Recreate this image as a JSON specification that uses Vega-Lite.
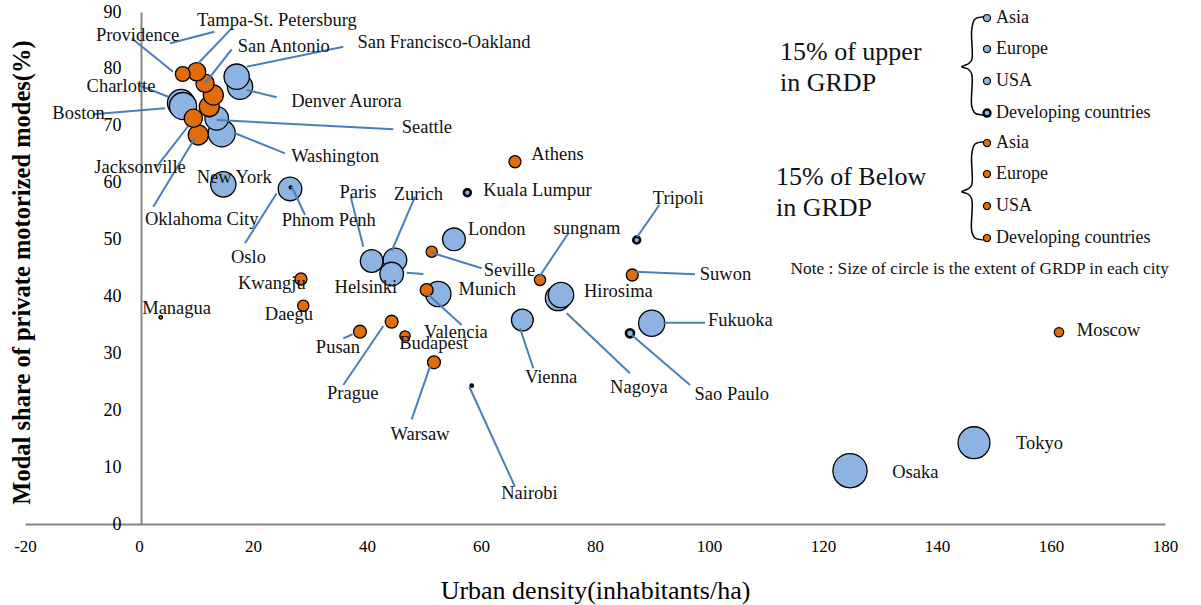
{
  "$schema": "https://vega.github.io/schema/vega-lite/v6.json",
  "width": 1140,
  "height": 512,
  "autosize": "none",
  "padding": {"left": 25, "top": 12, "right": 36, "bottom": 81},
  "background": "white",
  "config": {"view": {"stroke": null}, "font": "Liberation Serif"},
  "datasets": {
    "cities": [
      {"name": "Washington", "x": 14.51, "y": 68.68, "grdp": 234, "tier": "upper", "region": "USA"},
      {"name": "Denver Aurora", "x": 17.72, "y": 76.87, "grdp": 204, "tier": "upper", "region": "USA"},
      {"name": "San Francisco-Oakland", "x": 17.14, "y": 78.63, "grdp": 204, "tier": "upper", "region": "USA"},
      {"name": "Charlotte", "x": 7.37, "y": 74.0, "grdp": 234, "tier": "upper", "region": "USA"},
      {"name": "Boston", "x": 7.72, "y": 73.47, "grdp": 234, "tier": "upper", "region": "USA"},
      {"name": "Seattle", "x": 13.63, "y": 71.31, "grdp": 177, "tier": "upper", "region": "USA"},
      {"name": "New York", "x": 14.79, "y": 59.7, "grdp": 204, "tier": "upper", "region": "USA"},
      {"name": "Oklahoma City", "x": 10.4, "y": 68.38, "grdp": 128, "tier": "below", "region": "USA"},
      {"name": "", "x": 12.33, "y": 73.35, "grdp": 128, "tier": "below", "region": "USA"},
      {"name": "", "x": 13.04, "y": 75.41, "grdp": 128, "tier": "below", "region": "USA"},
      {"name": "San Antonio", "x": 11.58, "y": 77.47, "grdp": 106, "tier": "below", "region": "USA"},
      {"name": "Tampa-St. Petersburg", "x": 10.12, "y": 79.5, "grdp": 106, "tier": "below", "region": "USA"},
      {"name": "Providence", "x": 7.67, "y": 79.1, "grdp": 69, "tier": "below", "region": "USA"},
      {"name": "Jacksonville", "x": 9.53, "y": 71.31, "grdp": 106, "tier": "below", "region": "USA"},
      {"name": "Oslo", "x": 26.49, "y": 58.89, "grdp": 177, "tier": "upper", "region": "Europe"},
      {"name": "Paris", "x": 40.82, "y": 46.23, "grdp": 164, "tier": "upper", "region": "Europe"},
      {"name": "Zurich", "x": 44.91, "y": 46.41, "grdp": 177, "tier": "upper", "region": "Europe"},
      {"name": "Helsinki", "x": 44.33, "y": 43.94, "grdp": 177, "tier": "upper", "region": "Europe"},
      {"name": "London", "x": 55.26, "y": 50.04, "grdp": 164, "tier": "upper", "region": "Europe"},
      {"name": "Munich", "x": 52.51, "y": 40.43, "grdp": 204, "tier": "upper", "region": "Europe"},
      {"name": "Vienna", "x": 67.25, "y": 35.86, "grdp": 151, "tier": "upper", "region": "Europe"},
      {"name": "Nagoya", "x": 73.51, "y": 39.73, "grdp": 204, "tier": "upper", "region": "Asia"},
      {"name": "Hirosima", "x": 74.04, "y": 40.25, "grdp": 204, "tier": "upper", "region": "Asia"},
      {"name": "Fukuoka", "x": 89.95, "y": 35.28, "grdp": 219, "tier": "upper", "region": "Asia"},
      {"name": "Osaka", "x": 124.74, "y": 9.37, "grdp": 372, "tier": "upper", "region": "Asia"},
      {"name": "Tokyo", "x": 146.49, "y": 14.29, "grdp": 324, "tier": "upper", "region": "Asia"},
      {"name": "Kuala Lumpur", "x": 57.6, "y": 58.24, "grdp": 15, "tier": "upper", "region": "Developing countries"},
      {"name": "Tripoli", "x": 87.32, "y": 49.92, "grdp": 15, "tier": "upper", "region": "Developing countries"},
      {"name": "Sao Paulo", "x": 86.14, "y": 33.52, "grdp": 21, "tier": "upper", "region": "Developing countries"},
      {"name": "Phnom Penh", "x": 26.61, "y": 59.18, "grdp": 1, "tier": "upper", "region": "Developing countries"},
      {"name": "Nairobi", "x": 58.37, "y": 24.31, "grdp": 1.5, "tier": "upper", "region": "Developing countries"},
      {"name": "Managua", "x": 3.81, "y": 36.33, "grdp": 4, "tier": "below", "region": "Developing countries"},
      {"name": "Seville", "x": 51.35, "y": 47.86, "grdp": 40, "tier": "below", "region": "Europe"},
      {"name": "Valencia", "x": 50.47, "y": 41.13, "grdp": 53, "tier": "below", "region": "Europe"},
      {"name": "Prague", "x": 44.33, "y": 35.56, "grdp": 53, "tier": "below", "region": "Europe"},
      {"name": "Budapest", "x": 46.67, "y": 33.05, "grdp": 34, "tier": "below", "region": "Europe"},
      {"name": "Warsaw", "x": 51.75, "y": 28.42, "grdp": 53, "tier": "below", "region": "Europe"},
      {"name": "Athens", "x": 65.96, "y": 63.68, "grdp": 46, "tier": "below", "region": "Europe"},
      {"name": "Moscow", "x": 161.4, "y": 33.7, "grdp": 28, "tier": "below", "region": "Europe"},
      {"name": "Kwangju", "x": 28.42, "y": 43.07, "grdp": 46, "tier": "below", "region": "Asia"},
      {"name": "Daegu", "x": 28.82, "y": 38.37, "grdp": 40, "tier": "below", "region": "Asia"},
      {"name": "Pusan", "x": 38.77, "y": 33.8, "grdp": 53, "tier": "below", "region": "Asia"},
      {"name": "sungnam", "x": 70.35, "y": 42.89, "grdp": 40, "tier": "below", "region": "Asia"},
      {"name": "Suwon", "x": 86.54, "y": 43.77, "grdp": 46, "tier": "below", "region": "Asia"}
    ],
    "labels": [
      {"name": "Providence", "x": -0.26, "y": 85.97},
      {"name": "Tampa-St. Petersburg", "x": 24.2, "y": 88.6},
      {"name": "San Antonio", "x": 25.4, "y": 84.0},
      {"name": "San Francisco-Oakland", "x": 53.5, "y": 84.7},
      {"name": "Denver Aurora", "x": 36.4, "y": 74.35},
      {"name": "Seattle", "x": 50.5, "y": 69.8},
      {"name": "Washington", "x": 34.4, "y": 64.7},
      {"name": "Charlotte", "x": -3.16, "y": 77.0},
      {"name": "Boston", "x": -10.6, "y": 72.2},
      {"name": "Jacksonville", "x": 0.18, "y": 62.8},
      {"name": "Oklahoma City", "x": 11.0, "y": 53.7},
      {"name": "New York", "x": 16.7, "y": 61.0},
      {"name": "Phnom Penh", "x": 33.3, "y": 53.4},
      {"name": "Oslo", "x": 19.2, "y": 46.9},
      {"name": "Paris", "x": 38.4, "y": 58.3},
      {"name": "Zurich", "x": 49.0, "y": 57.95},
      {"name": "Helsinki", "x": 39.8, "y": 41.7},
      {"name": "Kwangju", "x": 23.3, "y": 42.3},
      {"name": "Daegu", "x": 26.3, "y": 36.9},
      {"name": "Managua", "x": 6.6, "y": 37.9},
      {"name": "Pusan", "x": 34.9, "y": 31.2},
      {"name": "Prague", "x": 37.5, "y": 23.0},
      {"name": "Budapest", "x": 51.7, "y": 31.8},
      {"name": "Valencia", "x": 55.6, "y": 33.75},
      {"name": "Warsaw", "x": 49.3, "y": 15.8},
      {"name": "Nairobi", "x": 68.5, "y": 5.5},
      {"name": "Athens", "x": 73.4, "y": 65.0},
      {"name": "Kuala Lumpur", "x": 69.9, "y": 58.7},
      {"name": "London", "x": 62.75, "y": 51.9},
      {"name": "Seville", "x": 65.0, "y": 44.6},
      {"name": "Munich", "x": 61.1, "y": 41.25},
      {"name": "Vienna", "x": 72.3, "y": 25.8},
      {"name": "sungnam", "x": 78.6, "y": 52.1},
      {"name": "Hirosima", "x": 84.1, "y": 40.9},
      {"name": "Tripoli", "x": 94.6, "y": 57.25},
      {"name": "Suwon", "x": 102.9, "y": 43.9},
      {"name": "Fukuoka", "x": 105.5, "y": 35.9},
      {"name": "Nagoya", "x": 87.7, "y": 24.1},
      {"name": "Sao Paulo", "x": 104.0, "y": 22.85},
      {"name": "Moscow", "x": 170.1, "y": 34.1},
      {"name": "Tokyo", "x": 158.0, "y": 14.29},
      {"name": "Osaka", "x": 136.2, "y": 9.2}
    ],
    "leaders": [
      {"name": "Providence", "x": -1.28, "y": 85.37, "x2": 5.96, "y2": 79.5},
      {"name": "", "x": 5.44, "y": 84.5, "x2": 13.21, "y2": 86.54},
      {"name": "Tampa-St. Petersburg", "x": 16.26, "y": 87.13, "x2": 10.4, "y2": 80.98},
      {"name": "San Antonio", "x": 16.26, "y": 83.44, "x2": 11.58, "y2": 77.47},
      {"name": "San Francisco-Oakland", "x": 35.84, "y": 83.9, "x2": 18.89, "y2": 80.38},
      {"name": "Denver Aurora", "x": 24.16, "y": 75.0, "x2": 18.89, "y2": 76.29},
      {"name": "Seattle", "x": 44.61, "y": 69.38, "x2": 13.63, "y2": 71.01},
      {"name": "Washington", "x": 25.61, "y": 65.16, "x2": 16.84, "y2": 68.68},
      {"name": "Charlotte", "x": -0.12, "y": 77.17, "x2": 5.14, "y2": 75.11},
      {"name": "Boston", "x": -8.02, "y": 72.02, "x2": 4.56, "y2": 73.07},
      {"name": "Jacksonville", "x": 3.11, "y": 62.81, "x2": 8.65, "y2": 69.96},
      {"name": "Oklahoma City", "x": 2.51, "y": 55.77, "x2": 9.82, "y2": 67.85},
      {"name": "Phnom Penh", "x": 26.79, "y": 59.29, "x2": 29.12, "y2": 54.31},
      {"name": "Oslo", "x": 24.16, "y": 58.13, "x2": 18.6, "y2": 49.34},
      {"name": "Paris", "x": 37.14, "y": 57.53, "x2": 39.35, "y2": 48.74},
      {"name": "Zurich", "x": 48.42, "y": 57.53, "x2": 44.33, "y2": 47.99},
      {"name": "Helsinki", "x": 46.96, "y": 44.17, "x2": 49.88, "y2": 43.94},
      {"name": "Seville", "x": 51.35, "y": 47.69, "x2": 60.12, "y2": 44.95},
      {"name": "Valencia", "x": 50.47, "y": 40.55, "x2": 56.61, "y2": 34.98},
      {"name": "Pusan", "x": 35.84, "y": 32.64, "x2": 37.49, "y2": 33.35},
      {"name": "Prague", "x": 42.86, "y": 34.8, "x2": 35.84, "y2": 24.43},
      {"name": "Warsaw", "x": 51.05, "y": 27.65, "x2": 47.84, "y2": 18.4},
      {"name": "Nairobi", "x": 57.95, "y": 24.13, "x2": 65.96, "y2": 6.56},
      {"name": "Vienna", "x": 66.84, "y": 34.4, "x2": 69.18, "y2": 27.37},
      {"name": "Nagoya", "x": 75.04, "y": 37.04, "x2": 86.14, "y2": 26.49},
      {"name": "sungnam", "x": 70.23, "y": 43.47, "x2": 75.32, "y2": 51.1},
      {"name": "Tripoli", "x": 87.42, "y": 50.5, "x2": 91.28, "y2": 56.07},
      {"name": "Suwon", "x": 87.02, "y": 44.35, "x2": 97.54, "y2": 43.89},
      {"name": "Fukuoka", "x": 91.98, "y": 35.38, "x2": 99.3, "y2": 35.38},
      {"name": "Sao Paulo", "x": 86.44, "y": 33.22, "x2": 96.67, "y2": 24.43}
    ],
    "legend": [
      {"label": "Asia", "x": 148.77, "y": 88.94, "tier": "upper", "region": "Asia"},
      {"label": "Europe", "x": 148.77, "y": 83.49, "tier": "upper", "region": "Europe"},
      {"label": "USA", "x": 148.77, "y": 77.87, "tier": "upper", "region": "USA"},
      {"label": "Developing countries", "x": 148.77, "y": 72.24, "tier": "upper", "region": "Developing countries"},
      {"label": "Asia", "x": 148.77, "y": 66.97, "tier": "below", "region": "Asia"},
      {"label": "Europe", "x": 148.77, "y": 61.52, "tier": "below", "region": "Europe"},
      {"label": "USA", "x": 148.77, "y": 55.9, "tier": "below", "region": "USA"},
      {"label": "Developing countries", "x": 148.77, "y": 50.27, "tier": "below", "region": "Developing countries"}
    ],
    "headings": [
      {"text": "15% of upper", "x": 112.46, "y": 82.97},
      {"text": "in GRDP", "x": 112.46, "y": 77.52},
      {"text": "15% of Below", "x": 111.75, "y": 61.0},
      {"text": "in GRDP", "x": 111.75, "y": 55.55}
    ],
    "note": [
      {"text": "Note : Size of circle is the extent of GRDP in each city", "x": 147.5, "y": 44.82}
    ],
    "braces": [
      {"brace": "upper", "ord": 1, "x": 148.72, "y": 89.17},
      {"brace": "upper", "ord": 2, "x": 146.67, "y": 88.77},
      {"brace": "upper", "ord": 3, "x": 146.09, "y": 86.83},
      {"brace": "upper", "ord": 4, "x": 146.09, "y": 81.56},
      {"brace": "upper", "ord": 5, "x": 145.44, "y": 80.86},
      {"brace": "upper", "ord": 6, "x": 144.33, "y": 80.38},
      {"brace": "upper", "ord": 7, "x": 145.44, "y": 79.98},
      {"brace": "upper", "ord": 8, "x": 146.09, "y": 79.1},
      {"brace": "upper", "ord": 9, "x": 146.09, "y": 73.47},
      {"brace": "upper", "ord": 10, "x": 146.67, "y": 72.24},
      {"brace": "upper", "ord": 11, "x": 148.72, "y": 71.89},
      {"brace": "below", "ord": 1, "x": 148.72, "y": 67.2},
      {"brace": "below", "ord": 2, "x": 146.67, "y": 66.8},
      {"brace": "below", "ord": 3, "x": 146.09, "y": 64.86},
      {"brace": "below", "ord": 4, "x": 146.09, "y": 59.59},
      {"brace": "below", "ord": 5, "x": 145.44, "y": 58.89},
      {"brace": "below", "ord": 6, "x": 144.33, "y": 58.41},
      {"brace": "below", "ord": 7, "x": 145.44, "y": 58.01},
      {"brace": "below", "ord": 8, "x": 146.09, "y": 57.13},
      {"brace": "below", "ord": 9, "x": 146.09, "y": 51.5},
      {"brace": "below", "ord": 10, "x": 146.67, "y": 50.27},
      {"brace": "below", "ord": 11, "x": 148.72, "y": 49.92}
    ]
  },
  "layer": [
    {
      "data": {"name": "cities"},
      "mark": {"type": "circle", "opacity": 1, "stroke": "#000000"},
      "encoding": {
        "x": {
          "field": "x", "type": "quantitative",
          "scale": {"domain": [-20, 180], "nice": false, "zero": false},
          "axis": {
            "values": [-20, 0, 20, 40, 60, 80, 100, 120, 140, 160, 180],
            "labelExpr": "datum.value < 0 ? '-' + abs(datum.value) : datum.label",
            "grid": false, "ticks": false, "tickSize": 0,
            "domainColor": "#868686", "domainWidth": 2,
            "labelFont": "Liberation Serif", "labelFontSize": 17, "labelColor": "#000000",
            "labelPadding": 14, "labelFlush": false, "labelOverlap": false,
            "title": "Urban density(inhabitants/ha)",
            "titleFont": "Liberation Serif", "titleFontSize": 26, "titleFontWeight": "normal",
            "titleColor": "#000000", "titleY": 66, "titleBaseline": "middle"
          }
        },
        "y": {
          "field": "y", "type": "quantitative",
          "scale": {"domain": [0, 90], "nice": false, "zero": false},
          "axis": {
            "values": [0, 10, 20, 30, 40, 50, 60, 70, 80, 90],
            "offset": -116,
            "grid": false, "ticks": false, "tickSize": 0,
            "domainColor": "#868686", "domainWidth": 2,
            "labelFont": "Liberation Serif", "labelFontSize": 18, "labelColor": "#000000",
            "labelPadding": 20, "labelFlush": false, "labelOverlap": false,
            "title": "Modal share of private motorized modes(%)",
            "titleFont": "Liberation Serif", "titleFontSize": 24.5, "titleFontWeight": "bold",
            "titleColor": "#000000", "titleX": -119, "titleY": 260, "titleAngle": -90,
            "titleAlign": "center", "titleBaseline": "middle"
          }
        },
        "size": {
          "field": "grdp", "type": "quantitative",
          "scale": {"domain": [0, 400], "range": [0, 1256.6], "zero": true},
          "legend": null
        },
        "color": {
          "field": "tier", "type": "nominal",
          "scale": {"domain": ["upper", "below"], "range": ["#8DB3E2", "#E36C0A"]},
          "legend": null
        },
        "strokeWidth": {
          "condition": {"test": "datum.tier === 'upper' && datum.region === 'Developing countries'", "value": 2.6},
          "value": 1.3
        }
      }
    },
    {
      "data": {"name": "leaders"},
      "mark": {"type": "rule", "color": "#4A7EBB", "strokeWidth": 2},
      "encoding": {
        "x": {"field": "x", "type": "quantitative"},
        "y": {"field": "y", "type": "quantitative"},
        "x2": {"field": "x2"},
        "y2": {"field": "y2"}
      }
    },
    {
      "data": {"name": "labels"},
      "mark": {"type": "text", "font": "Liberation Serif", "fontSize": 18.5, "color": "#111111", "align": "center", "baseline": "middle"},
      "encoding": {
        "x": {"field": "x", "type": "quantitative"},
        "y": {"field": "y", "type": "quantitative"},
        "text": {"field": "name"}
      }
    },
    {
      "data": {"name": "braces"},
      "mark": {"type": "line", "color": "#000000", "strokeWidth": 1.5, "interpolate": "catmull-rom"},
      "encoding": {
        "x": {"field": "x", "type": "quantitative"},
        "y": {"field": "y", "type": "quantitative"},
        "detail": {"field": "brace"},
        "order": {"field": "ord"}
      }
    },
    {
      "data": {"name": "legend"},
      "mark": {"type": "circle", "opacity": 1, "stroke": "#000000", "size": 50},
      "encoding": {
        "x": {"field": "x", "type": "quantitative"},
        "y": {"field": "y", "type": "quantitative"},
        "color": {"field": "tier", "type": "nominal", "legend": null},
        "strokeWidth": {
          "condition": {"test": "datum.tier === 'upper' && datum.region === 'Developing countries'", "value": 2.4},
          "value": 1.2
        }
      }
    },
    {
      "data": {"name": "legend"},
      "mark": {"type": "text", "font": "Liberation Serif", "fontSize": 18, "color": "#111111", "align": "left", "baseline": "middle", "dx": 9},
      "encoding": {
        "x": {"field": "x", "type": "quantitative"},
        "y": {"field": "y", "type": "quantitative"},
        "text": {"field": "label"}
      }
    },
    {
      "data": {"name": "headings"},
      "mark": {"type": "text", "font": "Liberation Serif", "fontSize": 26, "color": "#111111", "align": "left", "baseline": "middle"},
      "encoding": {
        "x": {"field": "x", "type": "quantitative"},
        "y": {"field": "y", "type": "quantitative"},
        "text": {"field": "text"}
      }
    },
    {
      "data": {"name": "note"},
      "mark": {"type": "text", "font": "Liberation Serif", "fontSize": 17.3, "color": "#111111", "align": "center", "baseline": "middle"},
      "encoding": {
        "x": {"field": "x", "type": "quantitative"},
        "y": {"field": "y", "type": "quantitative"},
        "text": {"field": "text"}
      }
    }
  ]
}
